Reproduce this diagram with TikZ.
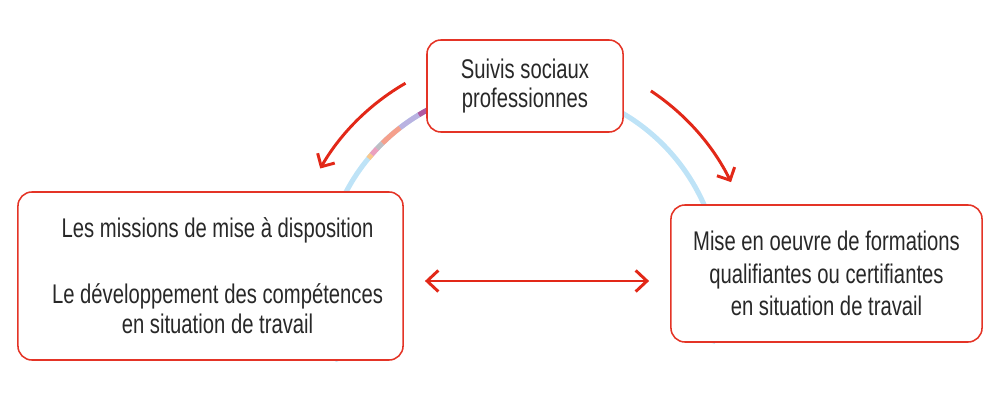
\documentclass[tikz,border=0pt]{standalone}
\usepackage{fontspec}
\setmainfont{Liberation Sans}[FakeStretch=0.75]
\usetikzlibrary{arrows.meta, positioning}
\definecolor{cadrered}{RGB}{228,52,38}
\definecolor{flechered}{RGB}{226,40,24}
\definecolor{cerclebleu}{RGB}{190,227,247}
\definecolor{textegris}{RGB}{40,40,40}
\definecolor{segmagenta}{RGB}{176,90,160}
\definecolor{seglavande}{RGB}{185,178,225}
\definecolor{segsaumon}{RGB}{245,160,140}
\definecolor{seggris}{RGB}{190,190,195}
\definecolor{segrose}{RGB}{235,160,190}
\definecolor{segorange}{RGB}{250,200,140}

\begin{document}
\begin{tikzpicture}[x=0.025cm, y=-0.025cm,
    cadre/.style={draw=cadrered, line width=1.1pt, rounded corners=10pt, fill=white, align=center, text=textegris, font=\fontsize{19.2}{21.3}\selectfont},
    fleche/.style={draw=flechered, line width=2.1pt, -{Straight Barb[length=7pt,width=14pt]}},
    anneau/.style={line width=3.6pt}]

        \useasboundingbox (0,0) rectangle (1000,400);
        \coordinate (hub) at (522,285);

        % --- CERCLE DE FOND ---
        \draw[anneau, cerclebleu] (hub) ++(17:199) arc[start angle=17, end angle=-202.5, radius=199];
        \foreach \a/\b/\c in {-110/-121.3/segmagenta, -121.3/-127.8/seglavande, -127.8/-134.6/segsaumon, -134.6/-136.8/seggris, -136.8/-139.1/segrose, -139.1/-140.5/segorange}
            \draw[anneau, \c] (hub) ++(\a:199) arc[start angle=\a, end angle=\b, radius=199];

        % --- CADRES ---
        \node[cadre, minimum width=4.9cm, minimum height=2.3cm] (suivis) at (525,86) {Suivis sociaux\\professionnes};
        \node[cadre, minimum width=9.625cm, minimum height=4.2cm] (missions) at (210.5,276) {\hspace*{10pt}Les missions de mise à disposition\\[25.5pt]\hspace*{10pt}Le développement des compétences\\\hspace*{10pt}en situation de travail};
        \node[cadre, minimum width=7.775cm, minimum height=3.425cm, font=\fontsize{19.2}{23.3}\selectfont] (formations) at (826.5,273.5) {Mise en oeuvre de formations\\qualifiantes ou certifiantes\\en situation de travail};

        % --- FLECHES ---
        \draw[fleche] (hub) ++(-120:233) arc[start angle=-120, end angle=-150, radius=233];
        \draw[fleche] (hub) ++(-56.4:233) arc[start angle=-56.4, end angle=-26.2, radius=233];
        \coordinate (niveau) at (0,281);
        \draw[fleche, {Straight Barb[length=8pt,width=15pt]}-{Straight Barb[length=8pt,width=15pt]}, shorten <=15pt, shorten >=15pt] (missions.east |- niveau) -- (formations.west |- niveau);

    \end{tikzpicture}
\end{document}
